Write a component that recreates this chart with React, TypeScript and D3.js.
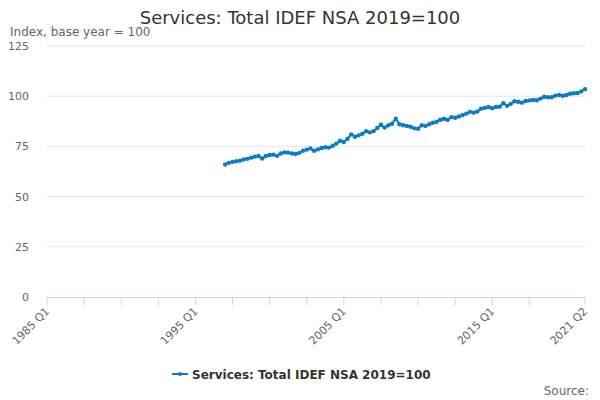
import * as d3 from 'd3'

const title = 'Services: Total IDEF NSA 2019=100'
const yAxisTitle = 'Index, base year = 100'
const seriesName = 'Services: Total IDEF NSA 2019=100'

// quarter index 0 = 1985 Q1, last = 2021 Q2
const firstYear = 1985
const lastQuarterIndex = 145
const seriesStartIndex = 48 // 1997 Q1

const idefValues = [
  66.0, 66.8, 67.3, 67.6,
  67.9, 68.5, 68.8, 69.4,
  69.9, 70.2, 69.0, 70.2,
  70.7, 70.9, 70.3, 71.5,
  72.0, 71.9, 71.5, 71.2,
  71.8, 72.8, 73.4, 74.0,
  72.8, 73.5, 74.2, 74.6,
  74.4, 75.3, 76.4, 77.8,
  77.2, 78.8, 81.0, 79.8,
  80.5, 81.3, 82.6, 82.0,
  82.6, 84.2, 85.8, 84.4,
  85.5, 86.3, 88.8, 86.0,
  85.5, 85.2, 84.8, 84.0,
  83.8, 85.5, 85.2, 86.0,
  86.8, 87.3, 88.3, 88.8,
  88.2, 89.6, 89.3, 89.9,
  90.6, 91.3, 92.2, 91.8,
  92.4, 93.8, 94.2, 94.6,
  94.0, 94.6, 94.8, 96.5,
  95.2, 96.2, 97.5, 97.2,
  96.8, 97.6, 97.9, 98.1,
  98.0, 98.8, 99.7, 99.5,
  99.5, 100.3, 100.6, 100.2,
  100.6, 101.2, 101.5, 101.6,
  102.4, 103.5,
]

const yTicks = [0, 25, 50, 75, 100, 125]
const xTickIndices = [0, 10, 20, 30, 40, 50, 60, 70, 80, 90, 100, 110, 120, 130, 145]
const xLabelIndices = [0, 40, 80, 120, 145]

const lineColor = '#0a7cc4'
const font = '"DejaVu Sans", Verdana, sans-serif'

const quarterLabel = (i: number) => `${firstYear + Math.floor(i / 4)} Q${(i % 4) + 1}`

export default function App() {
  const width = 600
  const height = 400
  const plot = { left: 47, right: 585, top: 46, bottom: 297 }

  const x = d3.scaleLinear().domain([0, lastQuarterIndex]).range([plot.left, plot.right])
  const y = d3.scaleLinear().domain([0, 125]).range([plot.bottom, plot.top])

  const points = idefValues.map((v, i) => ({ q: seriesStartIndex + i, v }))
  const line = d3.line<{ q: number; v: number }>()
    .x(d => x(d.q))
    .y(d => y(d.v))

  return (
    <svg width={width} height={height} style={{ position: 'absolute', left: 0, top: 0, fontFamily: font }}>
      <rect width={width} height={height} fill="#fff" />
      <text x={300} y={24} textAnchor="middle" fontSize={18} fill="#333">{title}</text>
      <text x={10} y={36} fontSize={12} fill="#666">{yAxisTitle}</text>

      {yTicks.map(t => (
        <g key={t}>
          {t > 0 && (
            <line x1={plot.left} x2={plot.right} y1={y(t)} y2={y(t)} stroke="#e6e6e6" strokeWidth={1} />
          )}
          <text x={29} y={y(t) + 4} textAnchor="end" fontSize={11} fill="#666">{t}</text>
        </g>
      ))}

      <line x1={plot.left} x2={plot.right} y1={plot.bottom + 0.5} y2={plot.bottom + 0.5} stroke="#ccd6eb" strokeWidth={1} />
      {xTickIndices.map(i => (
        <line key={i} x1={x(i)} x2={x(i)} y1={plot.bottom} y2={plot.bottom + 8} stroke="#ccd6eb" strokeWidth={1} />
      ))}
      {xLabelIndices.map(i => (
        <text
          key={i}
          transform={`translate(${x(i) + 3},${plot.bottom + 15}) rotate(-45)`}
          textAnchor="end"
          fontSize={11}
          fill="#666"
        >
          {quarterLabel(i)}
        </text>
      ))}

      <path d={line(points) ?? ''} fill="none" stroke={lineColor} strokeWidth={2} />
      {points.map(p => (
        <circle key={p.q} cx={x(p.q)} cy={y(p.v)} r={2.2} fill={lineColor} />
      ))}

      <g transform="translate(172,374)">
        <line x1={0} x2={16} y1={0} y2={0} stroke={lineColor} strokeWidth={2} />
        <circle cx={8} cy={0} r={2} fill={lineColor} />
        <text x={20} y={4.5} fontSize={12} fontWeight="bold" fill="#333">{seriesName}</text>
      </g>

      <text x={589} y={395} textAnchor="end" fontSize={12} fill="#666">Source:</text>
    </svg>
  )
}
